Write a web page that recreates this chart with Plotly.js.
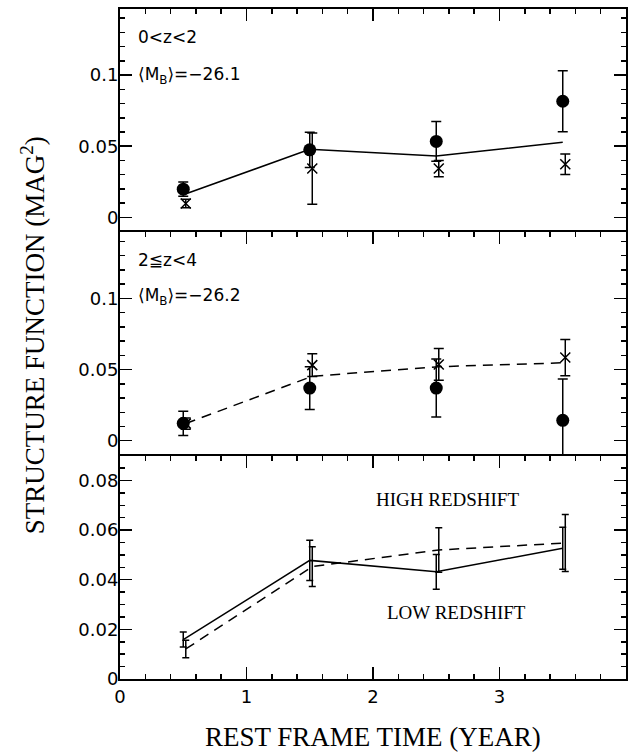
<!DOCTYPE html>
<html>
<head>
<meta charset="utf-8">
<script src="https://cdn.plot.ly/plotly-3.0.1.min.js"></script>
<style>html,body{margin:0;padding:0;background:#fff;}#chart{width:631px;height:755px;}</style>
</head>
<body>
<div id="chart"></div>
<script>
// Rest-frame time bins (years)
const lowX  = [0.5, 1.5, 2.5, 3.5];
const highX = [0.52, 1.52, 2.52, 3.52];

// Top panel (0<z<2): two sub-samples
const loCircY   = [0.0198, 0.0475, 0.0534, 0.0816];
const loCircErr = [0.0050, 0.0124, 0.0140, 0.0215];
const loCrossY   = [0.0098, 0.0343, 0.0343, 0.0373];
const loCrossErr = [0.0030, 0.0250, 0.0057, 0.0072];

// Middle panel (2<=z<4): two sub-samples
const hiCircY   = [0.0122, 0.0370, 0.0370, 0.0143];
const hiCircErr = [0.0085, 0.0150, 0.0204, 0.0290];
const hiCrossY   = [0.0120, 0.0531, 0.0536, 0.0584];
const hiCrossErr = [0.0040, 0.0080, 0.0112, 0.0127];

// Bottom panel: mean structure functions
const lowMean    = [0.0159, 0.0478, 0.0432, 0.0527];
const lowMeanErr = [0.0030, 0.0081, 0.0070, 0.0085];
const highMean    = [0.0121, 0.0453, 0.0520, 0.0548];
const highMeanErr = [0.0035, 0.0080, 0.0090, 0.0115];

const xTicks = [0, 1, 2, 3, 4];

const BLK = '#000';
function errs(arr, w) { return {type:'data', array:arr.slice(), visible:true, color:BLK, thickness:1.5, width:w}; }

const traces = [
  {x: lowX.slice(), y: lowMean.slice(), xaxis:'x', yaxis:'y', mode:'lines', line:{color:BLK, width:1.5}},
  {x: lowX.slice(), y: loCircY, xaxis:'x', yaxis:'y', mode:'markers', marker:{symbol:'circle', size:13, color:BLK}, error_y: errs(loCircErr, 5)},
  {x: highX.slice(), y: loCrossY, xaxis:'x', yaxis:'y', mode:'markers', marker:{symbol:'x-thin', size:10, line:{color:BLK, width:1.5}}, error_y: errs(loCrossErr, 5)},
  {x: highX.slice(), y: highMean.slice(), xaxis:'x2', yaxis:'y2', mode:'lines', line:{color:BLK, width:1.5, dash:'10px,7px'}},
  {x: highX.slice(), y: hiCrossY, xaxis:'x2', yaxis:'y2', mode:'markers', marker:{symbol:'x-thin', size:10, line:{color:BLK, width:1.5}}, error_y: errs(hiCrossErr, 5)},
  {x: lowX.slice(), y: hiCircY, xaxis:'x2', yaxis:'y2', mode:'markers', marker:{symbol:'circle', size:13, color:BLK}, error_y: errs(hiCircErr, 5)},
  {x: lowX.slice(), y: lowMean.slice(), xaxis:'x3', yaxis:'y3', mode:'lines', line:{color:BLK, width:1.5}, error_y: errs(lowMeanErr, 3.5)},
  {x: highX.slice(), y: highMean.slice(), xaxis:'x3', yaxis:'y3', mode:'lines', line:{color:BLK, width:1.5, dash:'10px,7px'}, error_y: errs(highMeanErr, 3.5)}
];

const serif = 'Liberation Serif';

function xAxis(anchor, side, mirror, showLabels) {
  return {
    anchor: anchor, side: side, range:[0,4], tickvals: xTicks.slice(), showticklabels: showLabels,
    ticks:'inside', ticklen:12, tickwidth:1.5, tickcolor:BLK,
    minor:{dtick:0.2, ticks:'inside', ticklen:5, tickwidth:1.5, tickcolor:BLK},
    showline:true, linewidth:2, linecolor:BLK, mirror: mirror,
    showgrid:false, zeroline:false, tickfont:{family:'DejaVu Sans', size:18, color:BLK}
  };
}
function yAxis(anchor, domain, range, dtick, minorDtick) {
  return {
    anchor: anchor, domain: domain, range: range, dtick: dtick,
    ticks:'inside', ticklen:12, tickwidth:1.5, tickcolor:BLK,
    minor:{dtick:minorDtick, ticks:'inside', ticklen:5, tickwidth:1.5, tickcolor:BLK},
    showline:true, linewidth:2, linecolor:BLK, mirror:'allticks',
    showgrid:false, zeroline:false, tickfont:{family:'DejaVu Sans', size:18, color:BLK}, ticklabelstandoff:-4
  };
}

function annFont() { return {family:'DejaVu Sans', size:17, color:BLK}; }
const annotations = [
  {xref:'x', yref:'y', x:0.13, y:0.127, xanchor:'left', yanchor:'middle', showarrow:false, text:'0&lt;z&lt;2', font:annFont()},
  {xref:'x', yref:'y', x:0.13, y:0.100, xanchor:'left', yanchor:'middle', showarrow:false, text:'⟨M<sub>B</sub>⟩=−26.1', font:annFont()},
  {xref:'x2', yref:'y2', x:0.13, y:0.127, xanchor:'left', yanchor:'middle', showarrow:false, text:'2≦z&lt;4', font:annFont()},
  {xref:'x2', yref:'y2', x:0.13, y:0.101, xanchor:'left', yanchor:'middle', showarrow:false, text:'⟨M<sub>B</sub>⟩=−26.2', font:annFont()},
  {xref:'x3', yref:'y3', x:2.59, y:0.0725, xanchor:'center', yanchor:'middle', showarrow:false, text:'HIGH REDSHIFT', font:{family:serif, size:19, color:BLK}},
  {xref:'x3', yref:'y3', x:2.66, y:0.0269, xanchor:'center', yanchor:'middle', showarrow:false, text:'LOW REDSHIFT', font:{family:serif, size:19, color:BLK}},
  {xref:'paper', yref:'paper', x:-0.172, y:0.513, xanchor:'center', yanchor:'middle', textangle:-90, showarrow:false, text:'STRUCTURE FUNCTION (MAG<sup>2</sup>)', font:{family:serif, size:27, color:BLK}},
  {xref:'paper', yref:'paper', x:0.5, y:-0.0866, xanchor:'center', yanchor:'middle', showarrow:false, text:'REST FRAME TIME (YEAR)', font:{family:serif, size:27, color:BLK}}
];

const layout = {
  width:631, height:755,
  margin:{l:120, r:5, t:9, b:76},
  showlegend:false,
  xaxis:  xAxis('y',  'top',    false, false),
  xaxis2: xAxis('y2', 'top',    false, false),
  xaxis3: xAxis('y3', 'bottom', 'allticks', true),
  yaxis:  yAxis('x',  [2/3, 1],   [-0.0105, 0.1464], 0.05, 0.01),
  yaxis2: yAxis('x2', [1/3, 2/3], [-0.0105, 0.1464], 0.05, 0.01),
  yaxis3: yAxis('x3', [0, 1/3],   [0, 0.09], 0.02, 0.005),
  annotations: annotations
};

function raiseTicks() {
  const svg = document.querySelector('#chart svg.main-svg');
  if (!svg) return;
  document.querySelectorAll('#chart g.xaxislayer-above, #chart g.yaxislayer-above').forEach(function(g){
    svg.appendChild(g);
  });
  document.querySelectorAll('#chart path.ticks').forEach(function(p){
    p.style.stroke = BLK; p.style.strokeOpacity = 1; p.style.strokeWidth = '1.5px';
  });
}

Plotly.newPlot('chart', traces, layout, {displayModeBar:false}).then(raiseTicks);
</script>
</body>
</html>
